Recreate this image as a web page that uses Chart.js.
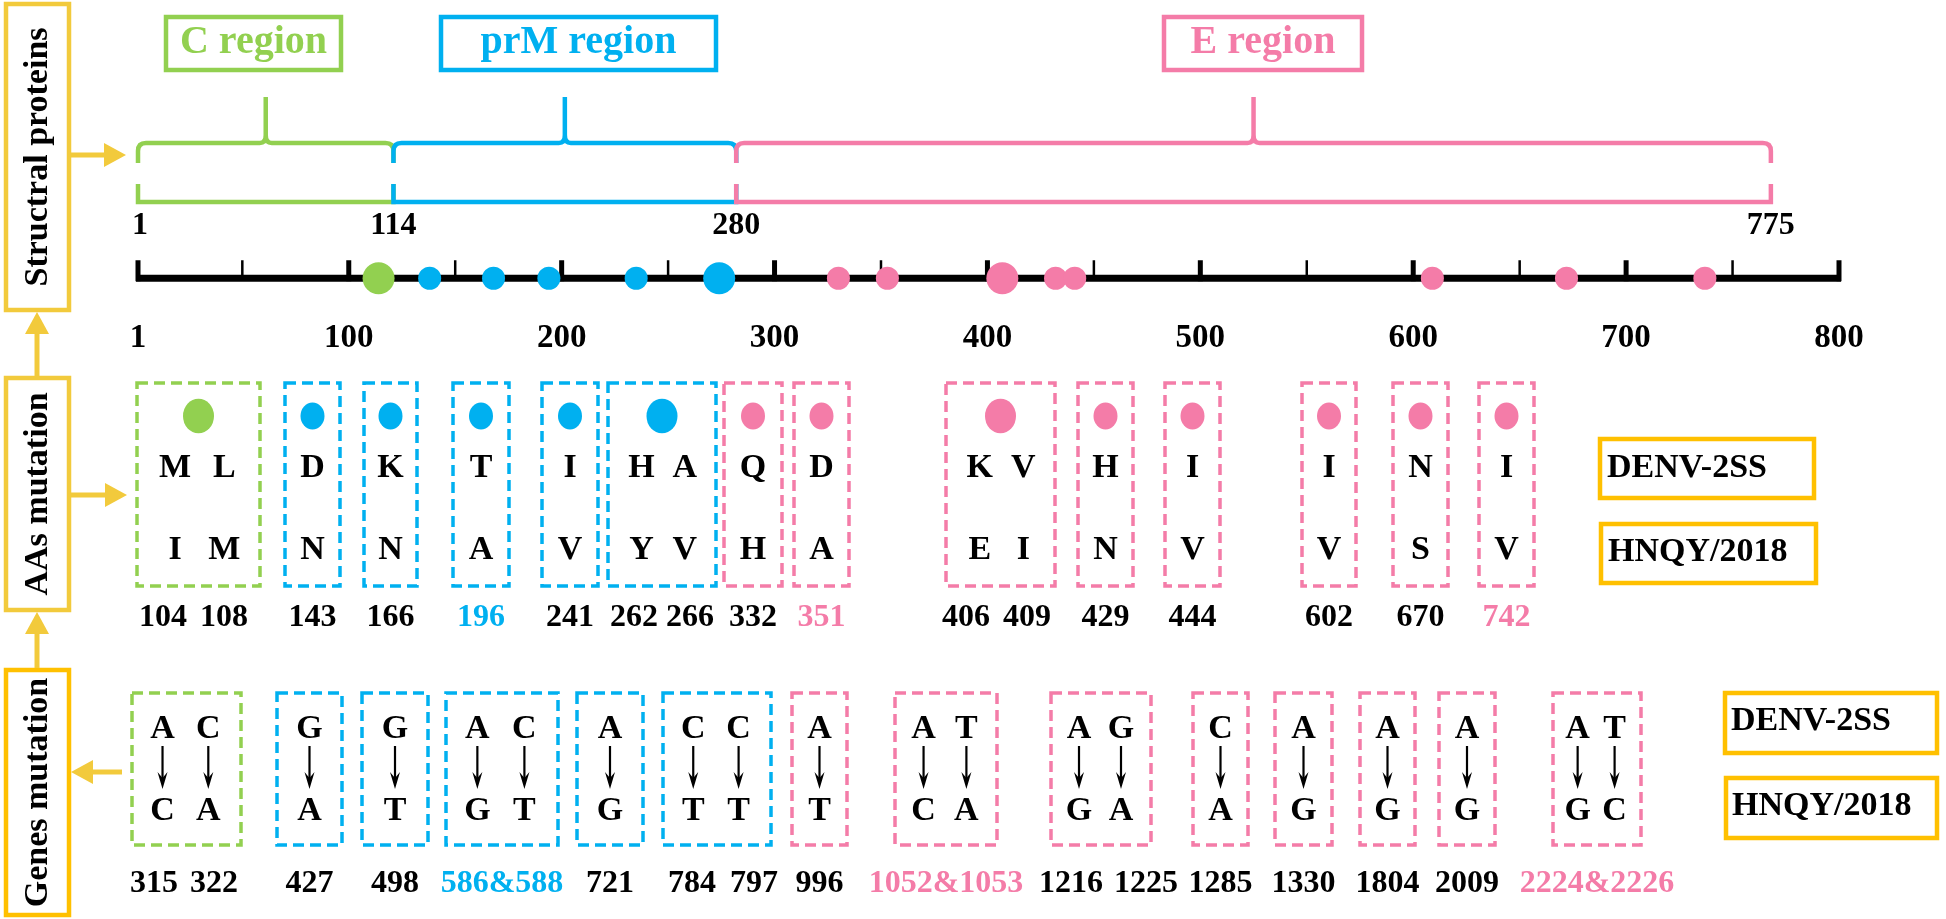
<!DOCTYPE html>
<html><head><meta charset="utf-8">
<script src="https://cdn.jsdelivr.net/npm/chart.js@4.4.0/dist/chart.umd.min.js"></script>
<style>html,body{margin:0;padding:0;background:#fff}#wrap{width:1946px;height:919px;position:relative}</style>
</head><body><div id="wrap"><canvas id="c" width="1946" height="919"></canvas></div>
<script>
// ---------------- DATA ----------------
const axisTicks = [1, 100, 200, 300, 400, 500, 600, 700, 800];
const minorTicks = [50, 150, 250, 350, 450, 550, 650, 750];
const regionNames = ['C region', 'prM region', 'E region'];
const regionBounds = [1, 114, 280, 775];          // labels of the region limits
const regionEdgePos = [1, 121, 282, 768];         // where the limits sit on the axis
const regionColors = ['#92D050', '#00B0F0', '#F47CA8'];
// mutation sites drawn on the protein axis
const sitePos = [114, 138, 168, 194, 235, 274, 330, 353, 407, 432, 441, 609, 672, 737];
const siteRegion = [0, 1, 1, 1, 1, 1, 2, 2, 2, 2, 2, 2, 2, 2];
const siteDouble = [1, 0, 0, 0, 0, 1, 0, 0, 1, 0, 0, 0, 0, 0];
// amino acid mutations
const aaLabels = [['104','108'],['143'],['166'],['196'],['241'],['262','266'],['332'],['351'],['406','409'],['429'],['444'],['602'],['670'],['742']];
const aaRef = [['M','L'],['D'],['K'],['T'],['I'],['H','A'],['Q'],['D'],['K','V'],['H'],['I'],['I'],['N'],['I']];
const aaMut = [['I','M'],['N'],['N'],['A'],['V'],['Y','V'],['H'],['A'],['E','I'],['N'],['V'],['V'],['S'],['V']];
const aaHighlight = [0, 0, 0, 1, 0, 0, 0, 1, 0, 0, 0, 0, 0, 1];
// nucleotide mutations
const ntLabels = [['315','322'],['427'],['498'],['586&588'],['721'],['784','797'],['996'],['1052&1053'],['1216','1225'],['1285'],['1330'],['1804'],['2009'],['2224&2226']];
const ntRef = [['A','C'],['G'],['G'],['A','C'],['A'],['C','C'],['A'],['A','T'],['A','G'],['C'],['A'],['A'],['A'],['A','T']];
const ntMut = [['C','A'],['A'],['T'],['G','T'],['G'],['T','T'],['T'],['C','A'],['G','A'],['A'],['G'],['G'],['G'],['G','C']];
const ntRegion = [0, 1, 1, 1, 1, 1, 2, 2, 2, 2, 2, 2, 2, 2];
const ntHighlight = [0, 0, 0, 1, 0, 0, 0, 1, 0, 0, 0, 0, 0, 1];
const strainNames = ['DENV-2SS', 'HNQY/2018'];
const sideLabels = ['Structral proteins', 'AAs mutation', 'Genes mutation'];

// ---------------- LAYOUT (positions only) ----------------
const AA_BOX = [[137,260],[285,340],[364,417],[453,509],[542,598],[608,716],[724,782],[794,849],[946,1055],[1078,1133],[1165,1220],[1302,1356],[1393,1448],[1479,1534]];
const AA_LBL = [[163,224],null,null,null,null,[634,690],null,null,[966,1027],null,null,null,null,null];
const NT_BOX = [[132,241],[277,342],[362,428],[446,558],[577,643],[663,771],[792,847],[895,997],[1051,1151],[1193,1248],[1275,1332],[1360,1415],[1439,1495],[1553,1641]];
const NT_LBL = [[154,214],null,null,null,null,[692,754],null,null,[1071,1146],null,null,null,null,null];
const REGION_BOX = [[166,341],[441,716],[1164,1362]];
const FONT = '"Liberation Serif","Times New Roman",serif';
const YEL = '#F2CA3C', YEL2 = '#FFC000';

function txt(ctx, s, x, y, size, color, align) {
  ctx.save();
  ctx.font = 'bold ' + size + 'px ' + FONT;
  ctx.fillStyle = color || '#000';
  ctx.textAlign = align || 'center';
  ctx.textBaseline = 'middle';
  ctx.fillText(s, x, y);
  ctx.restore();
}
function rect(ctx, x0, y0, x1, y1, color, lw, dash) {
  ctx.save();
  ctx.strokeStyle = color; ctx.lineWidth = lw;
  ctx.setLineDash(dash || []);
  ctx.strokeRect(x0, y0, x1 - x0, y1 - y0);
  ctx.restore();
}
function fatArrow(ctx, x0, y0, x1, y1, color) {
  const ang = Math.atan2(y1 - y0, x1 - x0), L = 22, W = 12;
  ctx.save();
  ctx.strokeStyle = color; ctx.fillStyle = color; ctx.lineWidth = 5;
  ctx.beginPath(); ctx.moveTo(x0, y0);
  ctx.lineTo(x1 - Math.cos(ang) * (L - 2), y1 - Math.sin(ang) * (L - 2)); ctx.stroke();
  ctx.translate(x1, y1); ctx.rotate(ang);
  ctx.beginPath(); ctx.moveTo(0, 0); ctx.lineTo(-L, -W); ctx.lineTo(-L, W); ctx.closePath(); ctx.fill();
  ctx.restore();
}
function thinArrow(ctx, x, y0, y1) {
  ctx.save();
  ctx.strokeStyle = '#000'; ctx.fillStyle = '#000'; ctx.lineWidth = 2.2;
  ctx.beginPath(); ctx.moveTo(x, y0); ctx.lineTo(x, y1 - 6); ctx.stroke();
  ctx.beginPath(); ctx.moveTo(x, y1); ctx.lineTo(x - 5, y1 - 17); ctx.lineTo(x, y1 - 11); ctx.lineTo(x + 5, y1 - 17); ctx.closePath(); ctx.fill();
  ctx.restore();
}
function brace(ctx, x0, x1, color) {
  const yTop = 143, yEnd = 163, yPeak = 97, yBot = 202, yBotEnd = 184, r = 8, m = (x0 + x1) / 2;
  ctx.save();
  ctx.strokeStyle = color; ctx.lineWidth = 4.5; ctx.lineCap = 'butt';
  ctx.beginPath();
  ctx.moveTo(x0, yEnd); ctx.lineTo(x0, yTop + r);
  ctx.quadraticCurveTo(x0, yTop, x0 + r, yTop);
  ctx.lineTo(m - 6, yTop);
  ctx.quadraticCurveTo(m, yTop, m, yTop - 8);
  ctx.lineTo(m, yPeak);
  ctx.moveTo(m, yTop - 8);
  ctx.quadraticCurveTo(m, yTop, m + 6, yTop);
  ctx.lineTo(x1 - r, yTop);
  ctx.quadraticCurveTo(x1, yTop, x1, yTop + r);
  ctx.lineTo(x1, yEnd);
  ctx.stroke();
  ctx.beginPath();
  ctx.moveTo(x0, yBotEnd); ctx.lineTo(x0, yBot); ctx.lineTo(x1, yBot); ctx.lineTo(x1, yBotEnd);
  ctx.stroke();
  ctx.restore();
}

const diagramPlugin = {
  id: 'diagram',
  beforeDatasetsDraw(chart) {
    const ctx = chart.ctx, xs = chart.scales.x, ys = chart.scales.y;
    const y = ys.getPixelForValue(0);
    ctx.save();
    ctx.strokeStyle = '#000';
    ctx.lineWidth = 7;
    ctx.beginPath(); ctx.moveTo(xs.getPixelForValue(axisTicks[0]) - 2, y); ctx.lineTo(xs.getPixelForValue(axisTicks[axisTicks.length - 1]) + 2, y); ctx.stroke();
    ctx.lineWidth = 5;
    axisTicks.forEach(v => { const x = xs.getPixelForValue(v); ctx.beginPath(); ctx.moveTo(x, y + 3); ctx.lineTo(x, y - 18); ctx.stroke(); });
    ctx.lineWidth = 2.5;
    minorTicks.forEach(v => { const x = xs.getPixelForValue(v); ctx.beginPath(); ctx.moveTo(x, y); ctx.lineTo(x, y - 18); ctx.stroke(); });
    ctx.restore();
  },
  afterDraw(chart) {
    const ctx = chart.ctx, xs = chart.scales.x;
    // region braces and titles
    for (let i = 0; i < 3; i++) {
      const x0 = xs.getPixelForValue(regionEdgePos[i]), x1 = xs.getPixelForValue(regionEdgePos[i + 1]);
      brace(ctx, x0, x1, regionColors[i]);
      const b = REGION_BOX[i];
      rect(ctx, b[0], 17, b[1], 70, regionColors[i], 4.5);
      txt(ctx, regionNames[i], (b[0] + b[1]) / 2, 43, 40, regionColors[i]);
    }
    regionBounds.forEach((v, i) => txt(ctx, String(v), xs.getPixelForValue(regionEdgePos[i]) + (i === 0 ? 2 : 0), 226, 32, '#000'));

    // side boxes
    const side = [[4, 310], [378, 610], [670, 915]];
    side.forEach((s, i) => {
      rect(ctx, 6, s[0], 69, s[1], i === 2 ? YEL2 : YEL, 4.5);
      ctx.save();
      ctx.translate(38, (s[0] + s[1]) / 2); ctx.rotate(-Math.PI / 2);
      txt(ctx, sideLabels[i], 0, 0, 34, '#000');
      ctx.restore();
    });
    fatArrow(ctx, 71, 155, 126, 155, YEL);
    fatArrow(ctx, 71, 495, 127, 495, YEL);
    fatArrow(ctx, 122, 772, 71, 772, YEL);
    fatArrow(ctx, 37, 376, 37, 312, YEL);
    fatArrow(ctx, 37, 668, 37, 612, YEL);

    // amino-acid boxes
    AA_BOX.forEach((b, i) => {
      const reg = siteRegion[i], col = regionColors[reg];
      const w = b[1] - b[0], cx = (b[0] + b[1]) / 2;
      rect(ctx, b[0], 383, b[1], 586, col, 3.5, [11, 6]);
      ctx.save(); ctx.fillStyle = col; ctx.beginPath();
      const r = siteDouble[i] ? 15.5 : 12;
      ctx.ellipse(cx, 416, r, r * 1.12, 0, 0, Math.PI * 2); ctx.fill(); ctx.restore();
      const two = aaRef[i].length === 2;
      const lx = two ? [b[0] + w * 0.31, b[0] + w * 0.71] : [cx];
      aaRef[i].forEach((s, k) => txt(ctx, s, lx[k], 468, 34, '#000'));
      aaMut[i].forEach((s, k) => txt(ctx, s, lx[k], 550, 34, '#000'));
      const lbx = AA_LBL[i] || [cx];
      aaLabels[i].forEach((s, k) => txt(ctx, s, lbx[k], 618, 32, aaHighlight[i] ? col : '#000'));
    });
    rect(ctx, 1600, 439, 1814, 498, YEL2, 4.5);
    rect(ctx, 1601, 524, 1816, 583, YEL2, 4.5);
    txt(ctx, strainNames[0], 1607, 468, 34, '#000', 'left');
    txt(ctx, strainNames[1], 1608, 552, 34, '#000', 'left');

    // nucleotide boxes
    NT_BOX.forEach((b, i) => {
      const col = regionColors[ntRegion[i]];
      const w = b[1] - b[0], cx = (b[0] + b[1]) / 2;
      rect(ctx, b[0], 693, b[1], 845, col, 3.5, [11, 6]);
      const two = ntRef[i].length === 2;
      const lx = two ? [b[0] + w * 0.28, b[0] + w * 0.70] : [cx];
      ntRef[i].forEach((s, k) => { txt(ctx, s, lx[k], 729, 34, '#000'); thinArrow(ctx, lx[k], 746, 789); });
      ntMut[i].forEach((s, k) => txt(ctx, s, lx[k], 811, 34, '#000'));
      const lbx = NT_LBL[i] || [cx];
      ntLabels[i].forEach((s, k) => txt(ctx, s, lbx[k], 884, 32, ntHighlight[i] ? col : '#000'));
    });
    rect(ctx, 1725, 693, 1937, 753, YEL2, 4.5);
    rect(ctx, 1726, 778, 1937, 838, YEL2, 4.5);
    txt(ctx, strainNames[0], 1731, 721, 34, '#000', 'left');
    txt(ctx, strainNames[1], 1732, 806, 34, '#000', 'left');
  }
};

new Chart(document.getElementById('c'), {
  type: 'scatter',
  data: {
    datasets: [{
      data: sitePos.map(v => ({ x: v, y: 0 })),
      backgroundColor: siteRegion.map(r => regionColors[r]),
      pointRadius: siteDouble.map(d => d ? 16 : 11.5),
      pointHoverRadius: siteDouble.map(d => d ? 16 : 11.5),
      borderWidth: 0
    }]
  },
  options: {
    responsive: false, animation: false, devicePixelRatio: 1,
    layout: { padding: { left: 138, right: 107, top: 250, bottom: 556 } },
    plugins: { legend: { display: false }, tooltip: { enabled: false } },
    scales: {
      x: {
        type: 'linear', min: 1, max: 800, offset: false,
        grid: { display: false, drawTicks: false }, border: { display: false },
        afterBuildTicks: s => { s.ticks = axisTicks.map(v => ({ value: v })); },
        ticks: { autoSkip: false, maxRotation: 0, padding: 12, color: '#000',
          font: { family: FONT, weight: 'bold', size: 33 },
          callback: v => String(v) }
      },
      y: { display: false, min: -1, max: 1 }
    }
  },
  plugins: [diagramPlugin]
});
</script>
</body></html>
